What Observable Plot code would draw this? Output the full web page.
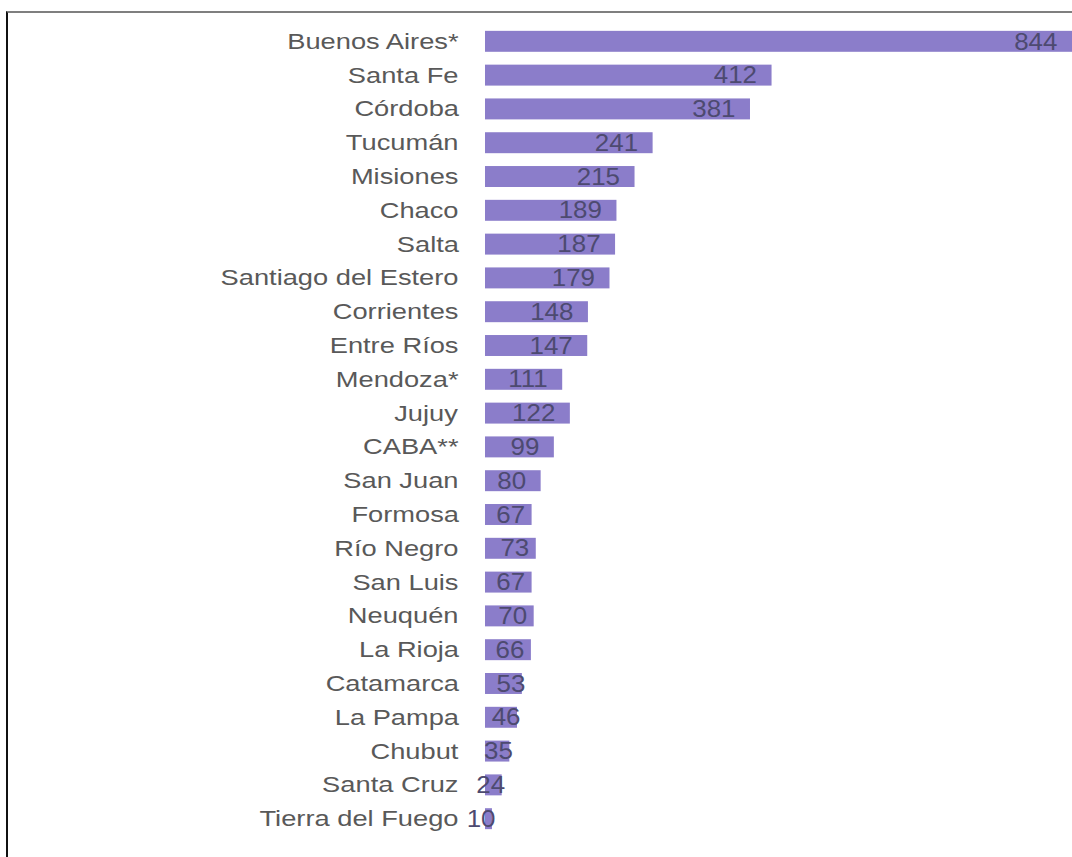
<!DOCTYPE html>
<html><head><meta charset="utf-8">
<script src="https://cdn.jsdelivr.net/npm/d3@7"></script>
<script src="https://cdn.jsdelivr.net/npm/@observablehq/plot@0.6"></script>
<style>
html,body{margin:0;padding:0;background:#fff;}
#wrap{position:relative;width:1072px;height:857px;overflow:hidden;}
#chart{position:absolute;left:0;top:0;}
#frame{position:absolute;left:6px;top:11px;width:1080px;height:870px;border-top:2px solid #7f7f7f;border-left:2px solid #111;box-sizing:border-box;pointer-events:none;}
</style></head><body>
<div id="wrap"><div id="chart"></div><div id="frame"></div></div>
<script>
const provinces = ["Buenos Aires*","Santa Fe","Córdoba","Tucumán","Misiones","Chaco","Salta","Santiago del Estero","Corrientes","Entre Ríos","Mendoza*","Jujuy","CABA**","San Juan","Formosa","Río Negro","San Luis","Neuquén","La Rioja","Catamarca","La Pampa","Chubut","Santa Cruz","Tierra del Fuego"];
const counts = [844,412,381,241,215,189,187,179,148,147,111,122,99,80,67,73,67,70,66,53,46,35,24,10];

const data = provinces.map((p, i) => ({province: p, count: counts[i]}));
const font = "'Liberation Sans', Arial, sans-serif";

const chart = Plot.plot({
  width: 1072, height: 857,
  marginLeft: 485, marginRight: 0, marginTop: 18, marginBottom: 15,
  x: {domain: [0, 844], axis: null},
  y: {domain: provinces, padding: 0.38, round: false, axis: null},
  style: {fontFamily: font, fontSize: "21px", background: "transparent"},
  marks: [
    Plot.barX(data, {x: "count", y: "province", fill: "#8b7dca"}),
    Plot.axisY({tickSize: 0, tickPadding: 27, fontSize: 22, fill: "#595959", label: null}),
    Plot.text(data.filter(d => d.count >= 75), {x: "count", y: "province", text: d => String(d.count), textAnchor: "end", dx: -15, fill: "#4d4a70", fontSize: 24}),
    Plot.text(data.filter(d => d.count >= 60 && d.count < 75), {x: "count", y: "province", text: d => String(d.count), textAnchor: "end", dx: -7, fill: "#4d4a70", fontSize: 24}),
    Plot.text(data.filter(d => d.count < 60), {x: "count", y: "province", text: d => String(d.count), textAnchor: "end", dx: 3, fill: "#4d4a70", fontSize: 24})
  ]
});
document.getElementById("chart").appendChild(chart);

function stretch(sel, s) {
  chart.querySelectorAll(sel).forEach(el => {
    const before = el.getBoundingClientRect().right;
    const t = el.getAttribute("transform") || "";
    el.setAttribute("transform", t + ` scale(${s},1)`);
    const after = el.getBoundingClientRect().right;
    const d = before - after;
    if (Math.abs(d) > 0.01) el.setAttribute("transform", `translate(${d},0) ` + el.getAttribute("transform"));
  });
}
stretch("g[aria-label='y-axis tick label'] text", 1.24);
stretch("g[aria-label='text'] text", 1.08);
</script>
</body></html>
